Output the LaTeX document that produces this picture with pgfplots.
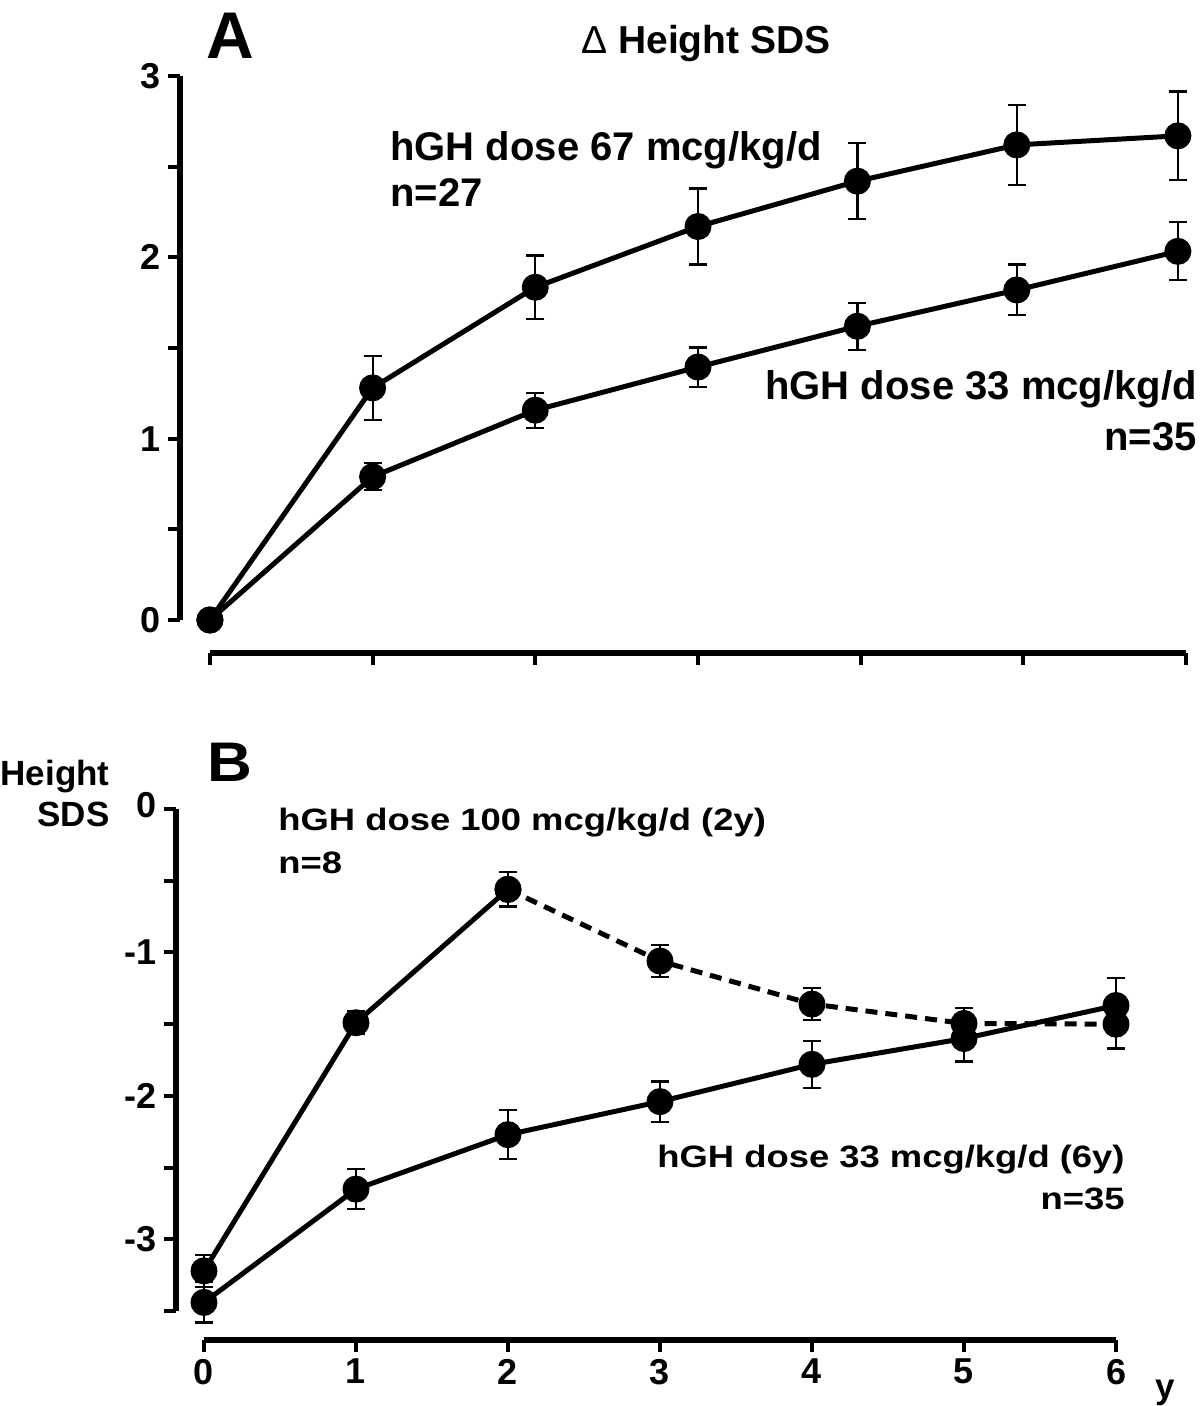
\documentclass[border=0pt]{standalone}
\usepackage{pgfplots}
\pgfplotsset{compat=1.18}
\usepackage{fontspec}
\setmainfont{Liberation Sans}
\setsansfont{Liberation Sans}
\usepackage{graphicx}

\pgfplotsset{
  panel/.style={
    scale only axis, anchor=south west, clip=false,
    axis x line*=bottom, axis y line*=left,
    axis line style={-, line width=3pt, black},
    tick align=outside, major tick length=6pt, minor tick length=6pt,
    tick style={black, line width=2pt},
    xtick={0,1,2,3,4,5,6},
    ticklabel style={font=\bfseries\fontsize{18}{18}\selectfont},
    cycle list={{black, solid, mark=*}},
    every axis plot/.append style={black, line width=2.5pt, line join=round, mark=*, mark size=5.5pt, mark options={solid, fill=black}},
    error bars/y dir=both, error bars/y explicit,
    error bars/error bar style={line width=1.1pt, solid, black},
    error bars/error mark options={rotate=90, mark size=4.5pt, line width=1.1pt, solid, black},
  }
}

\begin{document}
\begin{tikzpicture}
\path[use as bounding box] (0,0) rectangle (600pt,-703pt);

% ---------- Panel A ----------
\begin{axis}[panel,
  at={(90pt,-326.5pt)}, width=503pt, height=288.5pt,
  xmin=-0.184, xmax=6, ymin=-0.182, ymax=3,
  x axis line style={shorten <=15pt},
  y axis line style={shorten <=16.5pt},
  xticklabels={},
  ytick={0,1,2,3}, yticklabels={0,1,2,3},
  minor ytick={0.5,1.5,2.5},
]
\addplot+[] coordinates {(0,0) +- (0,0) (1,1.28) +- (0,0.175) (2,1.835) +- (0,0.175) (3,2.17) +- (0,0.21) (3.98,2.42) +- (0,0.21) (4.96,2.62) +- (0,0.22) (5.95,2.67) +- (0,0.245)};
\addplot+[] coordinates {(0,0) +- (0,0) (1,0.79) +- (0,0.075) (2,1.157) +- (0,0.097) (3,1.395) +- (0,0.108) (3.98,1.62) +- (0,0.13) (4.96,1.82) +- (0,0.14) (5.95,2.033) +- (0,0.16)};
\end{axis}

% ---------- Panel B ----------
\begin{axis}[panel,
  at={(88pt,-670pt)}, width=470pt, height=265.5pt,
  xmin=-0.184, xmax=6, ymin=-3.702, ymax=0,
  x axis line style={shorten <=14pt},
  y axis line style={shorten <=14.5pt},
  xticklabels={0,1,2,3,4,5,6},
  ytick={-3,-2,-1,0}, yticklabels={-3,-2,-1,\raisebox{4pt}{0}},
  minor ytick={-3.5,-2.5,-1.5,-0.5},
]
\addplot+[] coordinates {(0,-3.22) +- (0,0.11) (1,-1.49) +- (0,0.08) (2,-0.56) +- (0,0.12)};
\addplot+[dash pattern=on 6pt off 4pt] coordinates {(2,-0.56) +- (0,0) (3,-1.06) +- (0,0.11) (4,-1.36) +- (0,0.11) (5,-1.495) +- (0,0.11) (6,-1.50) +- (0,0.17)};
\addplot+[] coordinates {(0,-3.44) +- (0,0.14) (1,-2.65) +- (0,0.14) (2,-2.27) +- (0,0.17) (3,-2.04) +- (0,0.14) (4,-1.78) +- (0,0.165) (5,-1.60) +- (0,0.16) (6,-1.37) +- (0,0.19)};
\end{axis}

% ---------- Texts ----------
\node[anchor=base, font=\bfseries\fontsize{33}{33}\selectfont, inner sep=0pt] at (115pt,-29.5pt) {A};
\node[anchor=base, font=\bfseries\fontsize{19.5}{19.5}\selectfont, inner sep=0pt] at (353pt,-27pt) {{\mdseries Δ} Height SDS};
\node[anchor=base west, font=\bfseries\fontsize{20}{20}\selectfont, inner sep=0pt] at (195pt,-80.5pt) {hGH dose 67 mcg/kg/d};
\node[anchor=base west, font=\bfseries\fontsize{20}{20}\selectfont, inner sep=0pt] at (195pt,-103.5pt) {n=27};
\node[anchor=base east, font=\bfseries\fontsize{20}{20}\selectfont, inner sep=0pt] at (598.5pt,-199.75pt) {hGH dose 33 mcg/kg/d};
\node[anchor=base east, font=\bfseries\fontsize{20}{20}\selectfont, inner sep=0pt] at (598.5pt,-225.5pt) {n=35};

\node[anchor=base, font=\bfseries\fontsize{31}{31}\selectfont, inner sep=0pt] at (115pt,-390.5pt) {\scalebox{1}[0.9]{B}};
\node[anchor=base east, font=\bfseries\fontsize{17.5}{17.5}\selectfont, inner sep=0pt] at (55pt,-392.5pt) {Height};
\node[anchor=base east, font=\bfseries\fontsize{17.5}{17.5}\selectfont, inner sep=0pt] at (55pt,-413pt) {SDS};
\node[anchor=base west, font=\bfseries\fontsize{18.2}{18.2}\selectfont, inner sep=0pt] at (139pt,-415pt) {\scalebox{1}[0.85]{hGH dose 100 mcg/kg/d (2y)}};
\node[anchor=base west, font=\bfseries\fontsize{18.2}{18.2}\selectfont, inner sep=0pt] at (139pt,-436.5pt) {\scalebox{1}[0.85]{n=8}};
\node[anchor=base east, font=\bfseries\fontsize{18.2}{18.2}\selectfont, inner sep=0pt] at (562.5pt,-583.5pt) {\scalebox{1}[0.85]{hGH dose 33 mcg/kg/d (6y)}};
\node[anchor=base east, font=\bfseries\fontsize{18.2}{18.2}\selectfont, inner sep=0pt] at (562.5pt,-604.5pt) {\scalebox{1}[0.85]{n=35}};
\node[anchor=base, font=\bfseries\fontsize{17.5}{17.5}\selectfont, inner sep=0pt] at (582.5pt,-699pt) {y};
\end{tikzpicture}
\end{document}
